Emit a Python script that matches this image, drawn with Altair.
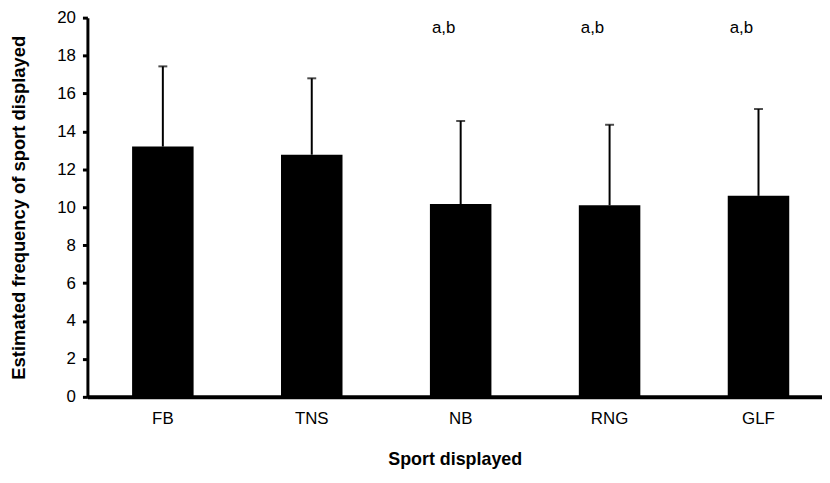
import altair as alt
import pandas as pd

sports = ["FB", "TNS", "NB", "RNG", "GLF"]
means = [13.2, 12.77, 10.17, 10.1, 10.6]
errors = [4.23, 4.03, 4.38, 4.25, 4.58]
sig_labels = ["", "", "a,b", "a,b", "a,b"]
y_ticks = [0, 2, 4, 6, 8, 10, 12, 14, 16, 18, 20]

df = pd.DataFrame({
    "sport": sports,
    "mean": means,
    "err": errors,
    "upper": [m + e for m, e in zip(means, errors)],
    "sig": sig_labels,
})

FONT = "Liberation Sans"

x_scale = alt.Scale(paddingInner=0.587, paddingOuter=0.26, align=0.577)
y_scale = alt.Scale(domain=[0, 20], nice=False)

x_axis = alt.Axis(
    labelAngle=0, labelFont=FONT, labelFontSize=17, labelColor="black",
    labelPadding=14, ticks=False, domainColor="black", domainWidth=4,
    titleFont=FONT, titleFontSize=18, titleFontWeight="bold",
    titleColor="black", titlePadding=24,
)
y_axis = alt.Axis(
    values=y_ticks, grid=False, labelOverlap=False,
    labelFont=FONT, labelFontSize=17, labelColor="black", labelPadding=7,
    tickColor="black", tickWidth=3, tickSize=5,
    domainColor="black", domainWidth=3,
    titleFont=FONT, titleFontSize=18.5, titleFontWeight="bold",
    titleColor="black", titlePadding=28,
)

X_TITLE = "Sport displayed"
Y_TITLE = "Estimated frequency of sport displayed"

x_enc = alt.X("sport:N", sort=sports, title=X_TITLE, scale=x_scale, axis=x_axis)

bars = alt.Chart(df).mark_bar(color="black").encode(
    x=x_enc,
    y=alt.Y("mean:Q", scale=y_scale, title=Y_TITLE, axis=y_axis),
)

err_rule = alt.Chart(df).mark_rule(color="black", strokeWidth=2).encode(
    x=x_enc,
    y=alt.Y("mean:Q", scale=y_scale, title=Y_TITLE, axis=y_axis),
    y2="upper:Q",
)

caps = alt.Chart(df).mark_tick(color="black", thickness=2, size=9).encode(
    x=x_enc,
    y=alt.Y("upper:Q", scale=y_scale, title=Y_TITLE, axis=y_axis),
)

sig = alt.Chart(df).mark_text(
    font=FONT, fontSize=17, color="black", align="left", baseline="middle", dx=-29
).encode(
    x=x_enc,
    y=alt.value(10),
    text="sig:N",
)

chart = alt.layer(bars, err_rule, caps, sig).properties(
    width=740,
    height=382,
    autosize=alt.AutoSizeParams(type="none"),
    padding={"left": 80, "top": 8, "right": 0, "bottom": 75},
    background="white",
).configure_view(stroke=None)

chart.save("out.html", embed_options={"renderer": "svg", "actions": False})
